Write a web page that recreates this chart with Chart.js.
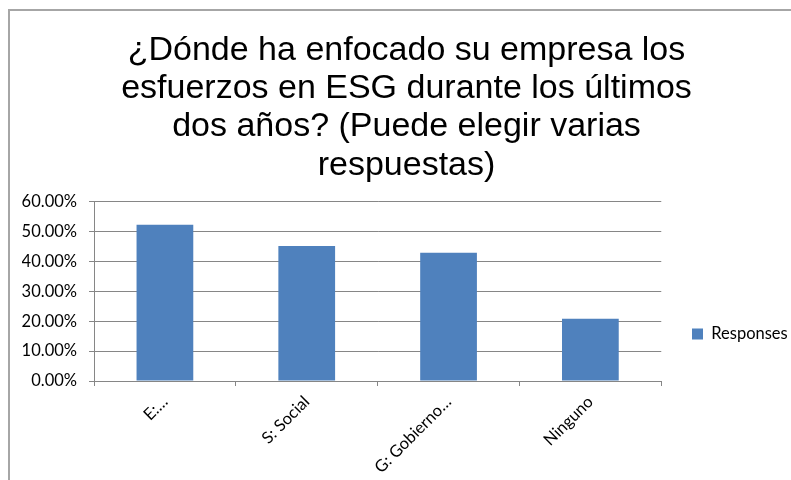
<!DOCTYPE html>
<html>
<head>
<meta charset="utf-8">
<script src="https://cdn.jsdelivr.net/npm/chart.js@4"></script>
<style>
    html, body { margin: 0; padding: 0; background: #fff; }
    #wrap { position: relative; width: 791px; height: 480px; overflow: hidden; }
    #frame {
        position: absolute; left: 8px; top: 9px; width: 900px; height: 600px;
        border-left: 2px solid #a6a6a6; border-top: 2px solid #a6a6a6;
    }
    canvas { position: absolute; left: 0; top: 0; }
</style>
</head>
<body>
<div id="wrap">
    <div id="frame"></div>
    <canvas id="grafico" width="791" height="480"></canvas>
</div>
<script>
const categorias = ["E:…", "S: Social", "G: Gobierno…", "Ninguno"];
const respuestas = [52.3, 45.2, 42.9, 20.8];
const nomeSerie = "Responses";
const titulo = [
    "¿Dónde ha enfocado su empresa los",
    "esfuerzos en ESG durante los últimos",
    "dos años? (Puede elegir varias",
    "respuestas)"
];
const yMax = 60;
const yPaso = 10;

const corGrade = "#868686";
const fonteEixo = { family: "Lato", size: 16.5 };

// legenda centrada na altura do gráfico e título um pouco à direita, como no Excel
const posicionarCaixas = {
    id: "posicionarCaixas",
    afterLayout: function (chart) {
        const leg = chart.legend;
        if (leg) {
            const dx = (692 - leg.options.labels.padding) - leg.left;
            const dy = 334 - (leg.top + leg.bottom) / 2;
            leg.left += dx;
            leg.right += dx;
            leg.top += dy;
            leg.bottom += dy;
        }
        const tit = chart.titleBlock;
        if (tit) {
            const dxTit = 406.5 - (tit.left + tit.right) / 2;
            tit.left += dxTit;
            tit.right += dxTit;
        }
    }
};

new Chart(document.getElementById("grafico"), {
    type: "bar",
    data: {
        labels: categorias,
        datasets: [{
            label: nomeSerie,
            data: respuestas,
            backgroundColor: "#4f81bd",
            borderWidth: 0,
            barPercentage: 0.4,
            categoryPercentage: 1
        }]
    },
    options: {
        responsive: false,
        animation: false,
        events: [],
        layout: { padding: { left: 22, right: 14, top: 0, bottom: 0 } },
        plugins: {
            tooltip: { enabled: false },
            title: {
                display: true,
                text: titulo,
                color: "#000",
                font: { family: "Liberation Sans", size: 34, weight: "normal", lineHeight: 1.13 },
                padding: { top: 31, bottom: 17 }
            },
            legend: {
                position: "right",
                labels: {
                    color: "#000",
                    font: fonteEixo,
                    boxWidth: 11,
                    boxHeight: 11,
                    padding: 10
                }
            }
        },
        scales: {
            x: {
                grid: {
                    display: true,
                    drawOnChartArea: false,
                    drawTicks: true,
                    tickLength: 5,
                    offset: true,
                    color: corGrade
                },
                border: { color: corGrade, width: 1 },
                ticks: {
                    color: "#000",
                    font: fonteEixo,
                    minRotation: 45,
                    maxRotation: 45,
                    autoSkip: false,
                    padding: 6
                },
                afterFit: function (scale) { scale.height = 99; }
            },
            y: {
                min: 0,
                max: yMax,
                grid: { color: corGrade, tickLength: 5 },
                border: { color: corGrade, width: 1 },
                ticks: {
                    stepSize: yPaso,
                    color: "#000",
                    font: fonteEixo,
                    padding: 12,
                    callback: function (v) { return v.toFixed(2) + "%"; }
                },
                afterFit: function (scale) { scale.width = 72; }
            }
        }
    },
    plugins: [posicionarCaixas]
});
</script>
</body>
</html>
